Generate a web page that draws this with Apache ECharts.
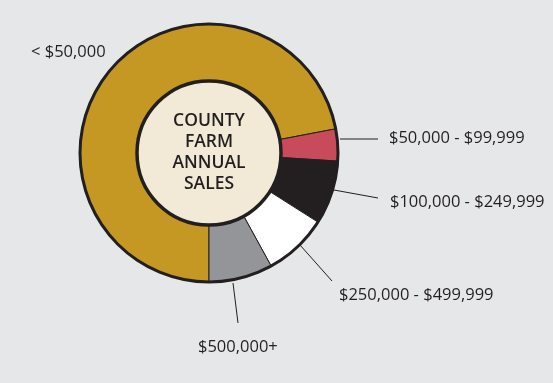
<!DOCTYPE html>
<html>
<head>
<meta charset="utf-8">
<script src="https://cdn.jsdelivr.net/npm/echarts@6/dist/echarts.min.js"></script>
<style>
html,body{margin:0;padding:0;background:#e6e7e8;}
#c{width:553px;height:383px;}
</style>
</head>
<body>
<div id="c"></div>
<script>
const categories = ['< $50,000', '$50,000 - $99,999', '$100,000 - $249,999', '$250,000 - $499,999', '$500,000+'];
const shares = [72, 4, 8, 8, 8];
const sliceColors = ['#c49823', '#c84b5b', '#231f20', '#ffffff', '#939598'];
const centerTitle = 'COUNTY\nFARM\nANNUAL\nSALES';

// label placement (left edge x, middle y) and leader lines, per category
const labelPos = [[31, 52], [389, 138], [390, 202], [339, 295], [198, 347]];
const leaderLines = [null, [[340, 139], [378, 139]], [[334, 190], [378, 198]], [[300, 245], [332, 281]], [[233, 283], [238, 323]]];

const chart = echarts.init(document.getElementById('c'), null, {renderer: 'canvas'});
const center = [209, 153];
const ink = '#231f20';

chart.setOption({
  backgroundColor: '#e6e7e8',
  animation: false,
  series: [
    {
      type: 'pie',
      center: center,
      radius: [71, 129],
      startAngle: 270,
      clockwise: true,
      silent: true,
      itemStyle: {borderColor: ink, borderWidth: 1},
      label: {
        show: true,
        position: 'outside',
        color: ink,
        fontFamily: 'Open Sans',
        fontSize: 16.5,
        overflow: 'none',
        formatter: p => p.name
      },
      labelLine: {show: true, lineStyle: {color: ink, width: 1}},
      labelLayout: function (p) {
        const i = p.dataIndex;
        const out = {x: labelPos[i][0], y: labelPos[i][1], align: 'left', verticalAlign: 'middle', width: 220};
        if (leaderLines[i]) out.labelLinePoints = [leaderLines[i][0], leaderLines[i][0], leaderLines[i][1]];
        return out;
      },
      data: categories.map((c, i) => ({
        name: c, value: shares[i],
        itemStyle: {color: sliceColors[i]},
        labelLine: {show: !!leaderLines[i]}
      }))
    },
    {
      type: 'pie',
      center: center,
      radius: [127.5, 130.5],
      silent: true,
      label: {show: false},
      labelLine: {show: false},
      itemStyle: {color: ink, borderWidth: 0},
      data: [{value: 1}]
    },
    {
      type: 'pie',
      center: center,
      radius: [0, 72],
      silent: true,
      itemStyle: {color: '#f2ead6', borderColor: ink, borderWidth: 3.5},
      label: {
        show: true,
        position: 'center',
        formatter: centerTitle,
        color: ink,
        fontFamily: 'Open Sans',
        fontWeight: 600,
        fontSize: 17.5,
        lineHeight: 21,
        align: 'center'
      },
      labelLine: {show: false},
      data: [{value: 1, name: 'center'}]
    }
  ]
});
</script>
</body>
</html>
